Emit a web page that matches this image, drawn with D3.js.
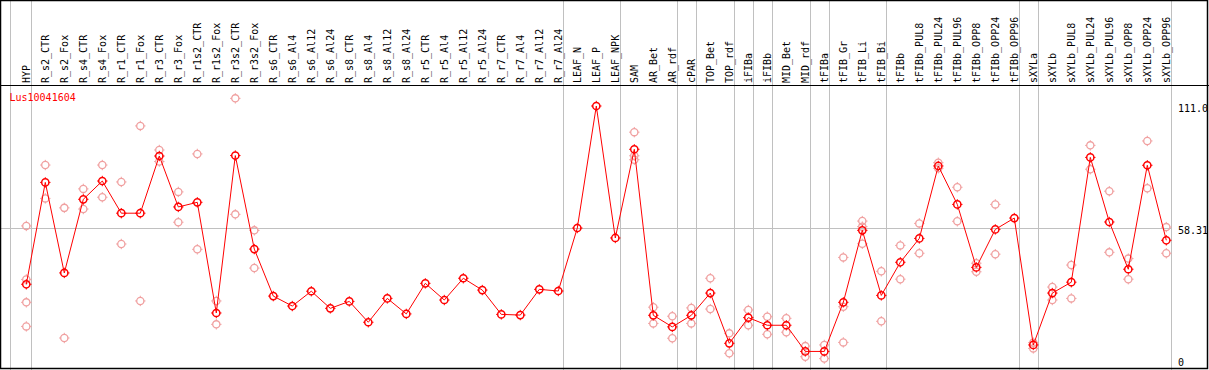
<!DOCTYPE html>
<html><head><meta charset="utf-8">
<script src="https://cdn.jsdelivr.net/npm/d3@7"></script>
<style>body{margin:0;background:#fff}svg{display:block}text{font-family:"DejaVu Sans Mono",monospace;font-size:10px}</style>
</head><body><svg id="c" width="1209" height="370"></svg>
<script>
const categories = ["HYP","R_s2_CTR","R_s2_Fox","R_s4_CTR","R_s4_Fox","R_r1_CTR","R_r1_Fox","R_r3_CTR","R_r3_Fox","R_r1s2_CTR","R_r1s2_Fox","R_r3s2_CTR","R_r3s2_Fox","R_s6_CTR","R_s6_Al4","R_s6_Al12","R_s6_Al24","R_s8_CTR","R_s8_Al4","R_s8_Al12","R_s8_Al24","R_r5_CTR","R_r5_Al4","R_r5_Al12","R_r5_Al24","R_r7_CTR","R_r7_Al4","R_r7_Al12","R_r7_Al24","LEAF_N","LEAF_P","LEAF_NPK","SAM","AR_Bet","AR_rdf","cPAR","TOP_Bet","TOP_rdf","iFIBa","iFIBb","MID_Bet","MID_rdf","tFIBa","tFIB_Gr","tFIB_Li","tFIB_Bi","tFIBb","tFIBb_PUL8","tFIBb_PUL24","tFIBb_PUL96","tFIBb_OPP8","tFIBb_OPP24","tFIBb_OPP96","sXYLa","sXYLb","sXYLb_PUL8","sXYLb_PUL24","sXYLb_PUL96","sXYLb_OPP8","sXYLb_OPP24","sXYLb_OPP96"];
const groupSizes = [1,28,3,3,1,2,1,1,2,1,3,7,1,7];
const means = [34.0,78.0,38.9,70.7,78.6,64.7,64.7,89.4,67.4,69.4,21.6,89.6,49.2,28.9,24.6,31.0,23.6,26.6,17.6,27.9,21.2,34.4,27.2,36.6,31.5,21.0,20.7,31.8,31.1,58.3,111.0,54.0,92.3,20.6,15.6,20.6,30.2,8.5,19.6,16.3,16.3,5.0,5.0,26.2,57.3,29.2,43.5,53.8,85.1,68.5,41.3,57.7,62.6,7.8,30.2,34.9,88.8,60.9,40.5,85.4,53.0];
const replicates = [[59.2,36.1,26.2,15.8],[85.5,71.1],[67.0,10.8],[75.2,66.5],[85.5,71.6],[78.2,51.4],[102.4,26.8],[92.0,87.0],[73.9,60.8],[90.3,49.1],[26.8,16.7],[114.3,64.2],[57.3,41.0],[],[],[],[],[],[],[],[],[],[],[],[],[],[],[],[],[],[],[],[99.7,89.5,87.8],[24.1,17.1],[20.2,10.7],[23.8,17.1],[36.6,23.3],[12.8,4.2],[22.9,16.3],[20.0,12.4],[19.3,13.3],[7.3,2.7],[7.8,1.9],[45.6,24.3,8.9],[61.3,58.9,51.5],[39.6,18.0],[50.8,36.2],[60.3,47.4],[86.5,84.1],[75.9,61.2],[43.1,39.4],[68.5,47.0],[],[8.8,6.3],[32.8,27.2],[42.3,27.9],[94.0,83.7],[74.2,47.8],[45.1,36.2],[95.9,75.5],[58.7,47.4]];
const axisTicks = [111.0, 58.31, 0];
const axisLabels = ["111.0","58.31","0"];
const title = "Lus10041604";

const W=1209,H=370;
const svg=d3.select("#c");
svg.append("rect").attr("width",W).attr("height",H).attr("fill","#fff");
const x=d3.scalePoint().domain(categories).range([26.3,1166.3]);
const y=d3.scaleLinear().domain([0,111]).range([363,106]);
const step=x.step();

// group separators
let ends=[],acc=0;groupSizes.forEach(s=>{acc+=s;ends.push(acc-1);});
svg.append("line").attr("x1",10.5).attr("x2",10.5).attr("y1",0).attr("y2",H).attr("stroke","#c0c0c0");
ends.forEach(i=>{const xx=Math.round(x(categories[i])+4.4)+0.5;
  svg.append("line").attr("x1",xx).attr("x2",xx).attr("y1",0).attr("y2",H).attr("stroke","#c0c0c0");});
// gridline at mean
svg.append("line").attr("x1",0).attr("x2",1171).attr("y1",Math.round(y(58.31))+0.5).attr("y2",Math.round(y(58.31))+0.5).attr("stroke","#c0c0c0");

// header
svg.append("line").attr("x1",0).attr("x2",W).attr("y1",85.5).attr("y2",85.5).attr("stroke","#000");
svg.selectAll("text.cat").data(categories).join("text").attr("class","cat")
  .attr("transform",d=>`translate(${x(d)},83) rotate(-90)`)
  .attr("dominant-baseline","central").attr("fill","#000").text(d=>d);

// axis labels
svg.selectAll("text.ax").data(axisTicks).join("text").attr("class","ax")
  .attr("x",1178).attr("y",d=>Math.min(y(d)+5.8,365.5)).attr("fill","#000")
  .text((d,i)=>axisLabels[i]);

svg.append("text").attr("x",9.5).attr("y",101).attr("fill","#ff0000").text(title);

function marker(g,cx,cy,color,sw){
  g.append("circle").attr("cx",cx).attr("cy",cy).attr("r",3.6).attr("fill","none").attr("stroke",color).attr("stroke-width",sw);
  [[0,-1],[0,1],[-1,0],[1,0]].forEach(([dx,dy])=>{
    g.append("line").attr("x1",cx+dx*3.6).attr("y1",cy+dy*3.6).attr("x2",cx+dx*5.2).attr("y2",cy+dy*5.2).attr("stroke",color).attr("stroke-width",1);
  });
}
const gr=svg.append("g");
replicates.forEach((arr,i)=>arr.forEach(v=>marker(gr,x(categories[i]),y(v),"#f0a0a0",1.3)));

const line=d3.line().x((d,i)=>x(categories[i])).y(d=>y(d));
svg.append("path").attr("d",line(means)).attr("fill","none").attr("stroke","#ff0000").attr("stroke-width",1);
const gm=svg.append("g");
means.forEach((v,i)=>marker(gm,x(categories[i]),y(v),"#ff0000",1.5));

// border
svg.append("rect").attr("x",0.5).attr("y",0.5).attr("width",W-2).attr("height",H-2).attr("fill","none").attr("stroke","#000").attr("stroke-width",1.5);
</script></body></html>
